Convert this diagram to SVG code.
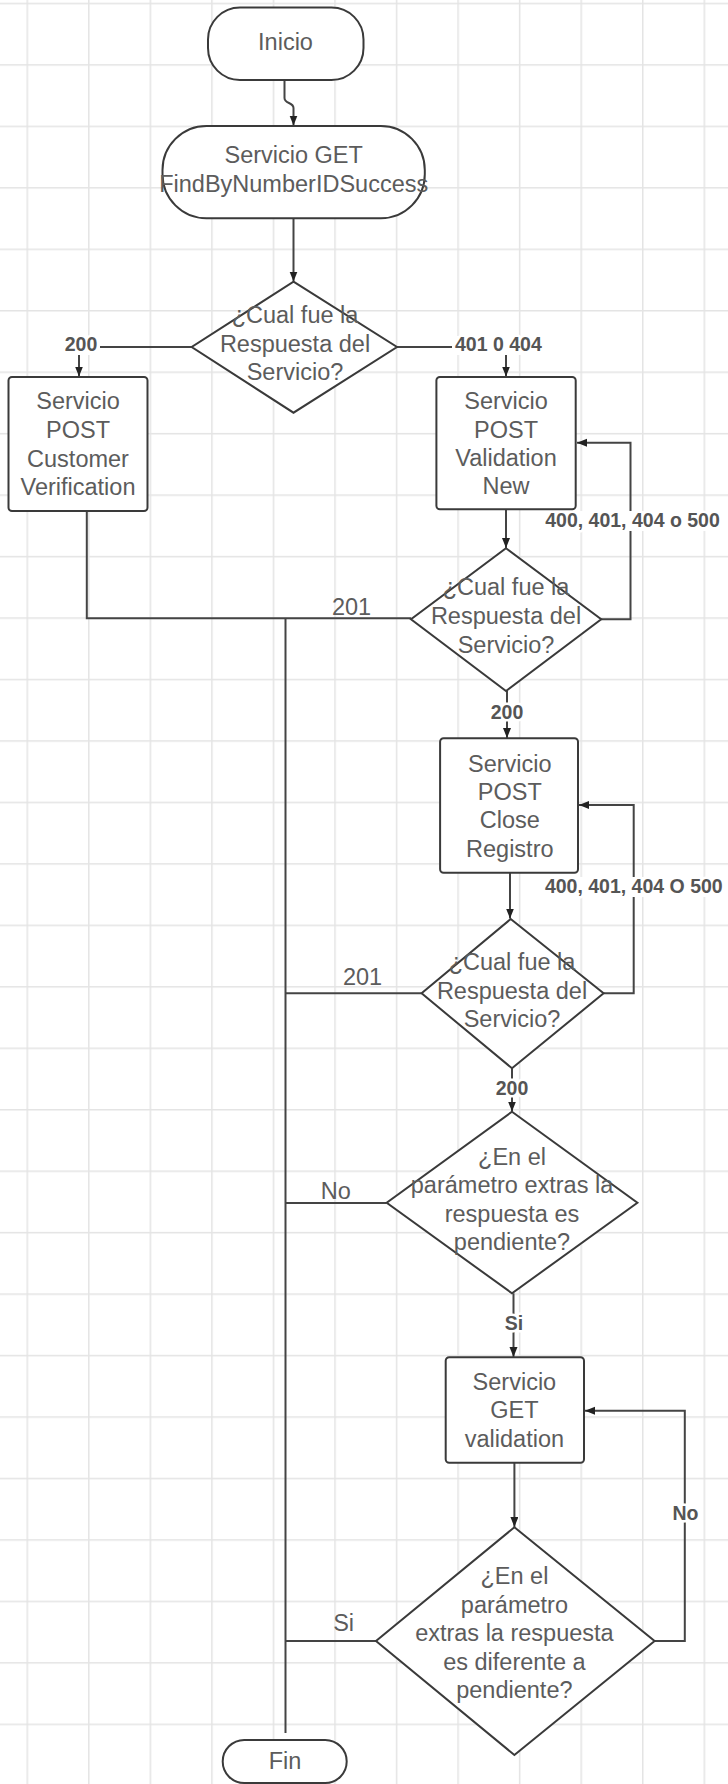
<svg xmlns="http://www.w3.org/2000/svg" width="728" height="1784" viewBox="0 0 728 1784">
<style>
.node{fill:#fff;stroke:#3a3a3a;stroke-width:2}
.t{font-family:"Liberation Sans",Arial,sans-serif;font-size:23.5px;fill:#5c5c5c;text-anchor:middle}
.lb{font-family:"Liberation Sans",Arial,sans-serif;font-size:19.5px;font-weight:bold;fill:#555;text-anchor:middle;stroke:#fff;stroke-width:5px;paint-order:stroke;stroke-linejoin:round}
.lr{font-family:"Liberation Sans",Arial,sans-serif;font-size:23.5px;fill:#5c5c5c;text-anchor:middle}
.bg{fill:#fff}
.c{fill:none;stroke:#444;stroke-width:2}
.ca{fill:none;stroke:#444;stroke-width:2;marker-end:url(#arr)}
</style>
<defs>
<pattern id="grid" patternUnits="userSpaceOnUse" x="26.5" y="2.7" width="61.55" height="61.46">
<path d="M0 0.75H61.55M0.75 0V61.46" stroke="#e4e4e4" stroke-width="1.5" fill="none"/>
</pattern>
<marker id="arr" markerUnits="userSpaceOnUse" markerWidth="11" markerHeight="9" refX="10" refY="4" orient="auto">
<path d="M0 0L10 4L0 8z" fill="#222"/>
</marker>
</defs>
<rect width="728" height="1784" fill="#fff"/>
<rect width="728" height="1784" fill="url(#grid)"/>

<g id="connectors">
<path class="ca" d="M284.5 80V98C284.5 104 293.5 102 293.5 108V125.5"/>
<path class="ca" d="M293.5 218V281.5"/>
<path class="ca" d="M191.7 347H79V376.5"/>
<path class="ca" d="M397 347H506V376.5"/>
<path class="c" d="M86.8 510.7V618.3H411"/>
<path class="c" d="M285.5 618.3V1733"/>
<path class="ca" d="M506 509.3V548"/>
<path class="ca" d="M601 619.3H630.5V442.7H577"/>
<path class="ca" d="M507 691V738"/>
<path class="ca" d="M510 872.7V918.5"/>
<path class="ca" d="M603.6 993.3H633.7V805H579"/>
<path class="c" d="M421.6 993.3H285.5"/>
<path class="ca" d="M512 1068.3V1111.5"/>
<path class="c" d="M386.7 1203H285.5"/>
<path class="ca" d="M513.5 1293.3V1357"/>
<path class="ca" d="M514.4 1462.7V1527"/>
<path class="ca" d="M654.6 1641H684.8V1410.7H585"/>
<path class="c" d="M376 1641H285.5"/>
<rect class="bg" x="63" y="336" width="37" height="19"/>
<rect class="bg" x="452" y="336" width="93" height="19"/>
<rect class="bg" x="540" y="511" width="187" height="20"/>
<rect class="bg" x="541" y="877" width="186" height="20"/>
<text class="lb" x="81" y="351">200</text>
<text class="lb" x="498.4" y="351">401 0 404</text>
<text class="lr" x="351.5" y="615">201</text>
<text class="lb" x="632.5" y="527">400, 401, 404 o 500</text>
<text class="lb" x="507" y="719">200</text>
<text class="lb" x="633.8" y="892.7">400, 401, 404 O 500</text>
<text class="lr" x="362.6" y="985">201</text>
<text class="lb" x="512" y="1095">200</text>
<text class="lr" x="335.7" y="1199.3">No</text>
<text class="lb" x="514" y="1330">Si</text>
<text class="lb" x="685.5" y="1520">No</text>
<text class="lr" x="343.6" y="1630.7">Si</text>
</g>

<g id="inicio">
<rect class="node" x="208" y="7.5" width="155.5" height="72.5" rx="32"/>
<text class="t" x="285.5" y="50">Inicio</text>
</g>
<g id="get-find">
<rect class="node" x="162.5" y="126" width="262.3" height="92.3" rx="44"/>
<text class="t" x="293.7" y="163">Servicio GET</text>
<text class="t" x="293.7" y="191.7">FindByNumberIDSuccess</text>
</g>
<g id="decision1">
<polygon class="node" points="293.5,281.7 397,347 293.5,412.7 191.7,347"/>
<text class="t" x="295" y="323">¿Cual fue la</text>
<text class="t" x="295" y="351.7">Respuesta del</text>
<text class="t" x="295" y="380">Servicio?</text>
</g>
<g id="customer-verification">
<rect class="node" x="8.5" y="377" width="139" height="134" rx="3.5"/>
<text class="t" x="78" y="409.3">Servicio</text>
<text class="t" x="78" y="437.7">POST</text>
<text class="t" x="78" y="466.7">Customer</text>
<text class="t" x="78" y="495">Verification</text>
</g>
<g id="validation-new">
<rect class="node" x="436.4" y="377" width="139.3" height="132.3" rx="3.5"/>
<text class="t" x="506" y="409">Servicio</text>
<text class="t" x="506" y="437.5">POST</text>
<text class="t" x="506" y="466">Validation</text>
<text class="t" x="506" y="494">New</text>
</g>
<g id="decision2">
<polygon class="node" points="506,548.3 601.2,619.3 506,691 411,619.3"/>
<text class="t" x="506" y="595">¿Cual fue la</text>
<text class="t" x="506" y="624.3">Respuesta del</text>
<text class="t" x="506" y="652.7">Servicio?</text>
</g>
<g id="close-registro">
<rect class="node" x="440.1" y="738.3" width="137.9" height="134.4" rx="3.5"/>
<text class="t" x="509.8" y="771.7">Servicio</text>
<text class="t" x="509.8" y="800">POST</text>
<text class="t" x="509.8" y="828.3">Close</text>
<text class="t" x="509.8" y="856.7">Registro</text>
</g>
<g id="decision3">
<polygon class="node" points="510.7,919 603.6,993.3 512,1068.3 421.6,993.3"/>
<text class="t" x="512" y="970">¿Cual fue la</text>
<text class="t" x="512" y="999.3">Respuesta del</text>
<text class="t" x="512" y="1027.3">Servicio?</text>
</g>
<g id="decision4">
<polygon class="node" points="512,1111.7 637.4,1202.7 512,1293.3 386.7,1202.7"/>
<text class="t" x="512" y="1165">¿En el</text>
<text class="t" x="512" y="1193.3">parámetro extras la</text>
<text class="t" x="512" y="1221.7">respuesta es</text>
<text class="t" x="512" y="1250">pendiente?</text>
</g>
<g id="get-validation">
<rect class="node" x="445.7" y="1357.3" width="138.3" height="105.4" rx="3.5"/>
<text class="t" x="514.4" y="1390">Servicio</text>
<text class="t" x="514.4" y="1418.3">GET</text>
<text class="t" x="514.4" y="1446.7">validation</text>
</g>
<g id="decision5">
<polygon class="node" points="514.4,1527.3 654.6,1641 514.4,1755 376,1641"/>
<text class="t" x="514.4" y="1584">¿En el</text>
<text class="t" x="514.4" y="1612.7">parámetro</text>
<text class="t" x="514.4" y="1640.7">extras la respuesta</text>
<text class="t" x="514.4" y="1670">es diferente a</text>
<text class="t" x="514.4" y="1698.3">pendiente?</text>
</g>
<g id="fin">
<rect class="node" x="222.7" y="1740" width="124" height="43" rx="21.5"/>
<text class="t" x="285" y="1768.5">Fin</text>
</g>
</svg>
